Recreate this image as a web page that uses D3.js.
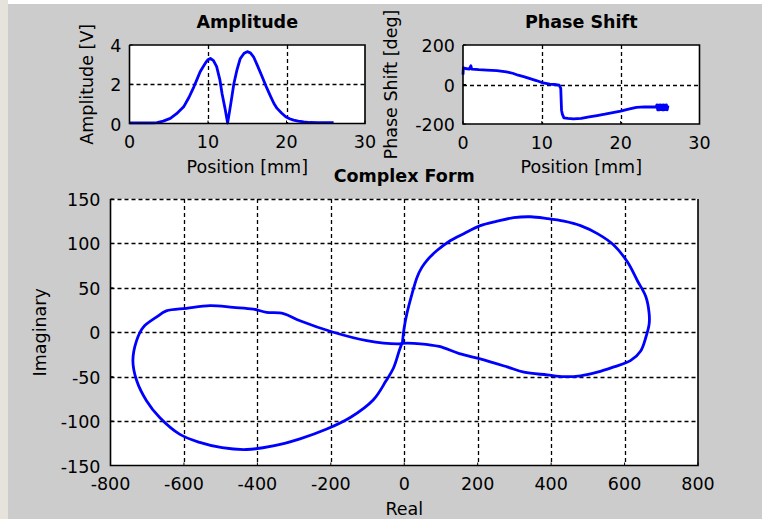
<!DOCTYPE html>
<html>
<head>
<meta charset="utf-8">
<script src="https://cdn.jsdelivr.net/npm/d3@7"></script>
<style>
  body { margin: 0; background: #cccccc; }
  text { font-family: "DejaVu Sans", sans-serif; fill: #000; }
</style>
</head>
<body>
<script>
// amplitude vs position
var ampPos = [0, 1, 2, 3, 3.5, 4.3, 5.2, 6, 6.9, 7.6, 8.2, 8.6, 9.0, 9.4, 9.7, 10.0, 10.3, 10.7, 11.1, 11.5, 11.8, 12.2, 12.5, 12.9, 13.3, 13.7, 14.1, 14.6, 15.0, 15.4, 15.8, 16.3, 16.9, 17.5, 18.0, 18.4, 18.8, 19.4, 19.9, 20.4, 20.9, 21.5, 22.2, 23, 24, 25, 26];
var ampVal = [0.03, 0.03, 0.03, 0.03, 0.04, 0.12, 0.26, 0.5, 0.85, 1.35, 1.87, 2.25, 2.64, 2.9, 3.1, 3.25, 3.32, 3.2, 2.9, 2.25, 1.5, 0.7, 0.02, 1.0, 2.04, 2.75, 3.3, 3.58, 3.66, 3.6, 3.4, 2.95, 2.38, 1.8, 1.36, 1.02, 0.77, 0.52, 0.34, 0.24, 0.17, 0.12, 0.08, 0.05, 0.04, 0.04, 0.04];

// phase shift vs position
var phasePos = [0, 0.05, 0.3, 0.8, 1.0, 1.1, 2, 3, 4.3, 5.5, 6.3, 7, 7.8, 8.5, 9.3, 10, 10.5, 11, 11.6, 12.2, 12.4, 12.5, 12.6, 12.8, 13.3, 14, 15, 16, 17, 18, 19, 20, 21, 22, 23, 24, 24.5, 24.6, 24.7, 24.8, 24.9, 25.0, 25.1, 25.2, 25.3, 25.4, 25.5, 25.6, 25.7, 25.8, 25.9, 26];
var phaseVal = [50, 85, 81, 78, 95, 78, 75, 73, 70, 64, 57, 47, 39, 30, 20, 10, 6, 2, 0, -3, -20, -130, -150, -169, -172, -174, -172, -164, -157, -150, -142, -135, -125, -116, -113, -114, -114, -103, -128, -104, -128, -103, -127, -104, -128, -103, -128, -104, -127, -103, -128, -106];

// complex form (real, imaginary), traced in order
var realVals = [-5, 0, 7, 21, 35, 48, 62, 89, 125, 162, 207, 253, 298, 344, 389, 435, 480, 526, 571, 608, 635, 658, 667, 667, 658, 644, 616, 571, 526, 480, 435, 389, 326, 280, 207, 150, 95, 44, -6, -15, -102, -193, -284, -329, -375, -411, -466, -529, -593, -648, -675, -711, -729, -739, -729, -702, -666, -611, -557, -496, -429, -357, -284, -211, -147, -84, -50, -29, -13, -6];
var imagVals = [-12, 5.6, 20.7, 43, 62, 73, 81, 92, 103, 111, 120, 125, 129, 130, 128, 125, 120, 111, 98, 79, 58, 40, 21, 9.5, -5.6, -21, -32, -39, -45, -49, -50, -48, -45, -39, -30, -24, -16, -13, -12.5, -13, -9.4, 0, 13, 21, 22.5, 26, 28, 30, 27, 24, 17, 5.6, -9.4, -32, -54, -77, -96, -115, -124, -130, -132, -128, -120, -109, -96, -76, -55, -40, -20, -12];

var posTicks = [0, 10, 20, 30];
var ampTicks = [0, 2, 4];
var phaseTicks = [-200, 0, 200];
var realTicks = [-800, -600, -400, -200, 0, 200, 400, 600, 800];
var imagTicks = [-150, -100, -50, 0, 50, 100, 150];

var W = 762, H = 519, FS = '17.5px';
var svg = d3.select('body').append('svg')
    .attr('width', W)
    .attr('height', H);

svg.append('rect').attr('width', W).attr('height', H).attr('fill', '#cccccc');
svg.append('rect').attr('width', W).attr('height', 4).attr('fill', '#ffffff');
svg.append('rect').attr('width', 8).attr('height', H).attr('fill', '#e6e3dc');

var fmt = function(d) { return String(d).replace('\u2212', '-'); };

function panel(opt) {
    var x = d3.scaleLinear().domain(opt.xDomain).range([opt.left, opt.right]);
    var y = d3.scaleLinear().domain(opt.yDomain).range([opt.bottom, opt.top]);
    var g = svg.append('g');

    g.append('rect')
        .attr('x', opt.left).attr('y', opt.top)
        .attr('width', opt.right - opt.left).attr('height', opt.bottom - opt.top)
        .attr('fill', '#ffffff');

    // dashed grid
    var xg = opt.xTicks.filter(function(d) { return d !== opt.xDomain[0] && d !== opt.xDomain[1]; });
    var yg = opt.yTicks.filter(function(d) { return d !== opt.yDomain[0] && (opt.dashTop || d !== opt.yDomain[1]); });
    g.selectAll('.gx').data(xg).enter().append('line')
        .attr('x1', function(d) { return Math.round(x(d)) + 0.5; })
        .attr('x2', function(d) { return Math.round(x(d)) + 0.5; })
        .attr('y1', opt.top).attr('y2', opt.bottom)
        .attr('stroke', '#000').attr('stroke-width', 1.3).attr('stroke-dasharray', '4,3');
    g.selectAll('.gy').data(yg).enter().append('line')
        .attr('y1', function(d) { return Math.round(y(d)) + 0.5; })
        .attr('y2', function(d) { return Math.round(y(d)) + 0.5; })
        .attr('x1', opt.left).attr('x2', opt.right)
        .attr('stroke', '#000').attr('stroke-width', 1.3).attr('stroke-dasharray', '4,3');

    // data line
    var line = d3.line()
        .x(function(d) { return x(d[0]); })
        .y(function(d) { return y(d[1]); })
        .curve(opt.curve || d3.curveLinear);
    g.append('path')
        .datum(d3.zip(opt.xs, opt.ys))
        .attr('d', line)
        .attr('fill', 'none')
        .attr('stroke', '#0000ff')
        .attr('stroke-width', 2.8)
        .attr('stroke-linejoin', 'round');

    // box
    var bp = 'M' + opt.left + ',' + opt.top + 'V' + opt.bottom + 'H' + opt.right + 'V' + opt.top;
    if (!opt.dashTop) bp += 'H' + opt.left;
    g.append('path').attr('d', bp).attr('fill', 'none')
        .attr('stroke', '#000').attr('stroke-width', 1.6);

    // ticks inward
    g.selectAll('.tx').data(opt.xTicks).enter().append('line')
        .attr('x1', function(d) { return x(d); }).attr('x2', function(d) { return x(d); })
        .attr('y1', opt.bottom).attr('y2', opt.bottom - 3)
        .attr('stroke', '#000');
    g.selectAll('.ty').data(opt.yTicks).enter().append('line')
        .attr('y1', function(d) { return y(d); }).attr('y2', function(d) { return y(d); })
        .attr('x1', opt.left).attr('x2', opt.left + 3)
        .attr('stroke', '#000');

    // tick labels
    g.selectAll('.lx').data(opt.xTicks).enter().append('text')
        .attr('x', function(d) { return x(d); })
        .attr('y', opt.bottom + 24.5)
        .attr('text-anchor', 'middle')
        .style('font-size', FS)
        .text(fmt);
    g.selectAll('.ly').data(opt.yTicks).enter().append('text')
        .attr('x', opt.left - opt.yLabGap)
        .attr('y', function(d) { return y(d) + 7; })
        .attr('text-anchor', 'end')
        .style('font-size', FS)
        .text(fmt);

    // titles and labels
    var cx = (opt.left + opt.right) / 2, cy = (opt.top + opt.bottom) / 2;
    g.append('text').attr('x', cx).attr('y', opt.titleY)
        .attr('text-anchor', 'middle')
        .style('font-size', FS).style('font-weight', 'bold')
        .text(opt.title);
    g.append('text').attr('x', cx).attr('y', opt.xLabY)
        .attr('text-anchor', 'middle')
        .style('font-size', FS)
        .text(opt.xLabel);
    g.append('text')
        .attr('transform', 'translate(' + opt.yLabX + ',' + cy + ') rotate(-90)')
        .attr('text-anchor', 'middle')
        .style('font-size', FS)
        .text(opt.yLabel);
}

panel({
    left: 129.5, right: 365, top: 45, bottom: 123.5,
    xDomain: [0, 30], yDomain: [0, 4], xTicks: posTicks, yTicks: ampTicks,
    xs: ampPos, ys: ampVal, yLabGap: 8,
    title: 'Amplitude', titleY: 28, xLabel: 'Position [mm]', xLabY: 173,
    yLabel: 'Amplitude [V]', yLabX: 93
});

panel({
    left: 463, right: 699.5, top: 45, bottom: 124,
    xDomain: [0, 30], yDomain: [-200, 200], xTicks: posTicks, yTicks: phaseTicks,
    xs: phasePos, ys: phaseVal, yLabGap: 8,
    title: 'Phase Shift', titleY: 28, xLabel: 'Position [mm]', xLabY: 173,
    yLabel: 'Phase Shift [deg]', yLabX: 397
});

panel({
    left: 110.5, right: 698, top: 199, bottom: 465.5,
    xDomain: [-800, 800], yDomain: [-150, 150], xTicks: realTicks, yTicks: imagTicks,
    xs: realVals, ys: imagVals, yLabGap: 10, dashTop: true,
    curve: d3.curveCatmullRom,
    title: 'Complex Form', titleY: 182, xLabel: 'Real', xLabY: 515,
    yLabel: 'Imaginary', yLabX: 46
});
</script>
</body>
</html>
